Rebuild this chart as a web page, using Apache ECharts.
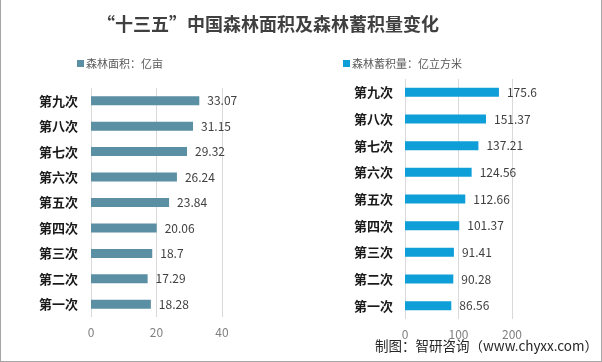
<!DOCTYPE html>
<html><head><meta charset="utf-8">
<script src="https://cdn.jsdelivr.net/npm/echarts@6/dist/echarts.min.js"></script>
<style>
html,body{margin:0;padding:0;background:#fff;}
#c{width:602px;height:362px;box-sizing:border-box;border-left:1px solid #a6a6a6;border-right:1px solid #a6a6a6;border-bottom:1px solid #a6a6a6;}
</style></head>
<body><div id="c"></div>
<script>
const categories = ['第一次','第二次','第三次','第四次','第五次','第六次','第七次','第八次','第九次'];
const areaValues = [18.28, 17.29, 18.7, 20.06, 23.84, 26.24, 29.32, 31.15, 33.07];
const stockValues = [86.56, 90.28, 91.41, 101.37, 112.66, 124.56, 137.21, 151.37, 175.6];
const areaName = '森林面积：亿亩';
const stockName = '森林蓄积量：亿立方米';
const titleText = '“十三五”中国森林面积及森林蓄积量变化';
const sourceText = '制图：智研咨询（www.chyxx.com）';

const font = '"Noto Sans CJK SC", "Noto Sans", sans-serif';
const chart = echarts.init(document.getElementById('c'), null, {renderer:'canvas'});
const catAxis = (gi, margin) => ({
  type:'category', gridIndex:gi, data:categories,
  axisLine:{show:false}, axisTick:{show:false},
  axisLabel:{fontFamily:font, fontSize:13, fontWeight:'bold', color:'#1a1a1a', margin:margin}
});
const valAxis = (gi, max, interval) => ({
  type:'value', gridIndex:gi, min:0, max:max, interval:interval,
  axisLine:{show:false}, axisTick:{show:false},
  splitLine:{show:true, lineStyle:{color:'#d9d9d9', width:1}},
  axisLabel:{fontFamily:font, fontSize:12, color:'#7f7f7f', margin:9}
});
chart.setOption({
  backgroundColor:'#fff',
  animation:false,
  title:{text:titleText, left:262, textAlign:'center', top:10,
    textStyle:{fontFamily:font, fontSize:18, fontWeight:'bold', color:'#404040'}},
  legend:[
    {data:[areaName], left:71, top:53, icon:'rect', itemWidth:7, itemHeight:7, itemGap:2,
      textStyle:{fontFamily:font, fontSize:11, color:'#595959', padding:[0,0,0,-3]}},
    {data:[stockName], left:337, top:53, icon:'rect', itemWidth:7, itemHeight:7,
      textStyle:{fontFamily:font, fontSize:11, color:'#595959', padding:[0,0,0,-3]}}
  ],
  grid:[
    {left:90, right:379, top:88, bottom:44},
    {left:404, right:89, top:79, bottom:42}
  ],
  xAxis:[valAxis(0,40,20), valAxis(1,200,100)],
  yAxis:[catAxis(0,13), catAxis(1,12)],
  series:[
    {name:areaName, type:'bar', xAxisIndex:0, yAxisIndex:0, data:areaValues, barWidth:9,
      itemStyle:{color:'#5a8fa4'},
      label:{show:true, position:'right', distance:8, fontFamily:font, fontSize:12, color:'#404040'}},
    {name:stockName, type:'bar', xAxisIndex:1, yAxisIndex:1, data:stockValues, barWidth:9,
      itemStyle:{color:'#0e9ed8'},
      label:{show:true, position:'right', distance:8, fontFamily:font, fontSize:12, color:'#404040'}}
  ],
  graphic:[
    {type:'text', right:3, top:339, style:{text:sourceText, fontFamily:font, fontSize:13.5, fill:'#262626'}}
  ]
});
</script></body></html>
